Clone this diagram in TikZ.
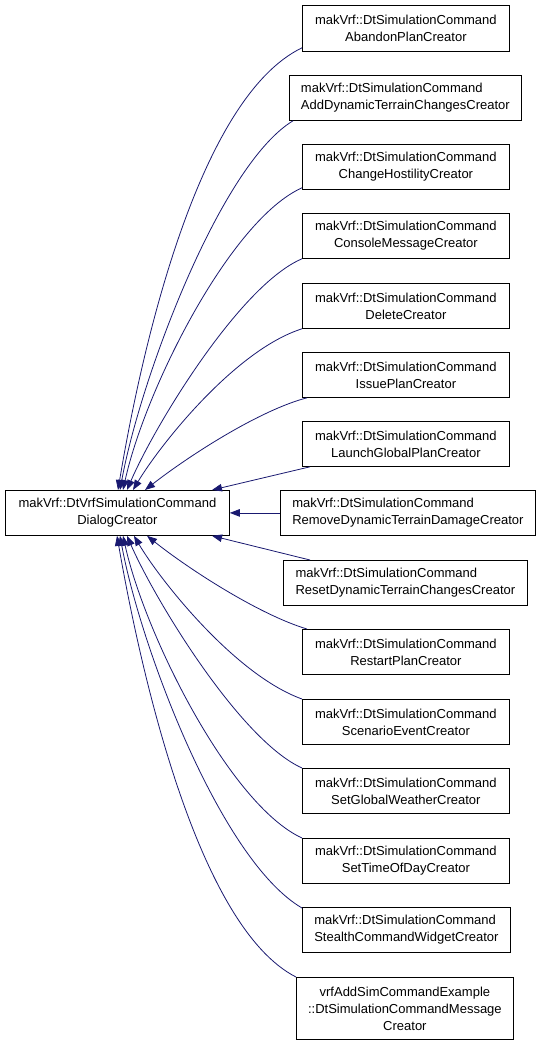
\documentclass[tikz,border=0pt]{standalone}
\usepackage{fontspec}
\setmainfont{Liberation Sans}
\usetikzlibrary{arrows.meta}
\definecolor{edgeblue}{HTML}{191970}
\begin{document}
\begin{tikzpicture}[x=1pt,y=-1pt,
  cls/.style={draw=black, line width=0.8pt, fill=white, inner sep=0pt, anchor=north west,
    font=\fontsize{13}{17}\selectfont, text=black},
  std/.style={cls, minimum width=207pt, minimum height=45pt, align=center},
  inh/.style={draw=edgeblue, line width=0.8pt, -{Triangle[length=10pt,width=7.5pt]}}]
\useasboundingbox (0,0) rectangle (539,1045);

% base class
\node[cls, minimum width=224pt, minimum height=45pt, align=center] (base) at (5,490)
  {makVrf::DtVrfSimulationCommand\\DialogCreator};

% derived classes
\node[std, minimum height=46pt] (b1) at (302,5) {makVrf::DtSimulationCommand\\AbandonPlanCreator};
\node[cls, minimum width=232pt, minimum height=45pt, align=left] (b2) at (289,75) {makVrf::DtSimulationCommand\\AddDynamicTerrainChangesCreator};
\node[std] (b3) at (302,144) {makVrf::DtSimulationCommand\\ChangeHostilityCreator};
\node[std] (b4) at (302,213) {makVrf::DtSimulationCommand\\ConsoleMessageCreator};
\node[std] (b5) at (302,283) {makVrf::DtSimulationCommand\\DeleteCreator};
\node[std] (b6) at (302,352) {makVrf::DtSimulationCommand\\IssuePlanCreator};
\node[std] (b7) at (302,421) {makVrf::DtSimulationCommand\\LaunchGlobalPlanCreator};
\node[cls, minimum width=255pt, minimum height=45pt, align=left] (b8) at (280,490) {makVrf::DtSimulationCommand\\RemoveDynamicTerrainDamageCreator};
\node[cls, minimum width=244pt, minimum height=45pt, align=left] (b9) at (283,560) {makVrf::DtSimulationCommand\\ResetDynamicTerrainChangesCreator};
\node[std] (b10) at (302,629) {makVrf::DtSimulationCommand\\RestartPlanCreator};
\node[std] (b11) at (302,699) {makVrf::DtSimulationCommand\\ScenarioEventCreator};
\node[std] (b12) at (302,768) {makVrf::DtSimulationCommand\\SetGlobalWeatherCreator};
\node[std] (b13) at (302,838) {makVrf::DtSimulationCommand\\SetTimeOfDayCreator};
\node[cls, minimum width=208pt, minimum height=45pt, align=left] (b14) at (302,907) {makVrf::DtSimulationCommand\\StealthCommandWidgetCreator};
\node[cls, minimum width=217pt, minimum height=62pt, align=center] (b15) at (296,977) {vrfAddSimCommandExample\\::DtSimulationCommandMessage\\Creator};

% arrow tip points on the base class
\coordinate (t1) at ([xshift=113pt]base.north west);
\coordinate (t2) at ([xshift=115pt]base.north west);
\coordinate (t3) at ([xshift=118pt]base.north west);
\coordinate (t4) at ([xshift=122pt]base.north west);
\coordinate (t5) at ([xshift=128pt]base.north west);
\coordinate (t6) at ([xshift=140pt]base.north west);
\coordinate (t7) at ([xshift=207pt]base.north west);
\coordinate (t9) at ([xshift=207pt]base.south west);
\coordinate (t10) at ([xshift=142pt]base.south west);
\coordinate (t11) at ([xshift=129pt]base.south west);
\coordinate (t12) at ([xshift=122pt]base.south west);
\coordinate (t13) at ([xshift=118pt]base.south west);
\coordinate (t14) at ([xshift=115pt]base.south west);
\coordinate (t15) at ([xshift=112pt]base.south west);

% inheritance connectors
\draw[inh] ([yshift=4pt]b1.south west) .. controls (200,97) and (143,340) .. (t1);
\draw[inh] ([xshift=4pt]b2.south west) .. controls (220,165) and (140,380) .. (t2);
\draw[inh] ([yshift=2pt]b3.south west) .. controls (230,220) and (145,390) .. (t3);
\draw[inh] (b4.south west) .. controls (240,285) and (155,425) .. (t4);
\draw[inh] (b5.south west) .. controls (235,350) and (160,445) .. (t5);
\draw[inh] ([xshift=5pt]b6.south west) .. controls (260,410) and (190,455) .. (t6);
\draw[inh] ([xshift=8pt]b7.south west) -- (t7);
\draw[inh] (b8.west) -- (base.east);
\draw[inh] ([xshift=27pt]b9.north west) -- (t9);
\draw[inh] ([xshift=5pt]b10.north west) .. controls (260,615) and (190,570) .. (t10);
\draw[inh] (b11.north west) .. controls (235,675) and (160,580) .. (t11);
\draw[inh] (b12.north west) .. controls (240,740) and (155,600) .. (t12);
\draw[inh] (b13.north west) .. controls (230,805) and (145,635) .. (t13);
\draw[inh] ([yshift=-1pt]b14.north west) .. controls (220,860) and (140,645) .. (t14);
\draw[inh] (b15.north west) .. controls (200,928) and (143,685) .. (t15);
\end{tikzpicture}
\end{document}
